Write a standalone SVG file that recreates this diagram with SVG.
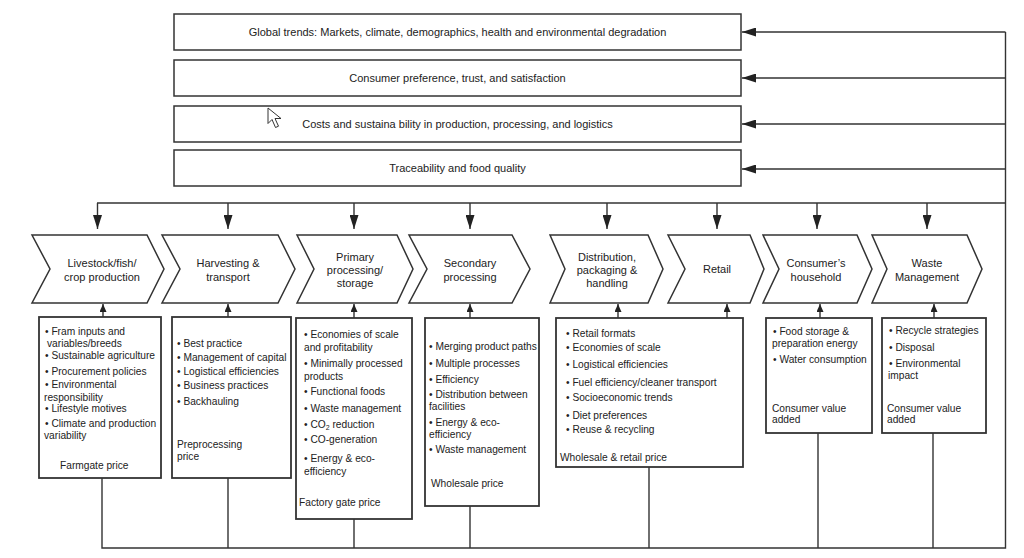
<svg xmlns="http://www.w3.org/2000/svg" width="1024" height="558" viewBox="0 0 1024 558">
<defs>
<style>
.box{fill:#fff;stroke:#333;stroke-width:1.5}
.bbox{fill:#fff;stroke:#333;stroke-width:1.8}
.ln{fill:none;stroke:#333;stroke-width:1.4}
.t{font-family:"Liberation Sans",Arial,sans-serif;font-size:11px;fill:#222;text-anchor:middle}
.b{font-family:"Liberation Sans",Arial,sans-serif;font-size:10.2px;fill:#222}
</style>
<marker id="ah" markerUnits="userSpaceOnUse" markerWidth="14" markerHeight="9" refX="14" refY="4.5" orient="auto"><path d="M0,0 L14,4.5 L0,9 z" fill="#222"/></marker>
<marker id="ahs" markerUnits="userSpaceOnUse" markerWidth="8" markerHeight="7" refX="8" refY="3.5" orient="auto"><path d="M0,0 L8,3.5 L0,7 z" fill="#222"/></marker>
</defs>
<rect width="1024" height="558" fill="#fff"/>

<g id="connectors">
<path class="ln" d="M102,478 V548 H1005.5 V32"/>
<path class="ln" d="M228,478 V548"/>
<path class="ln" d="M354,519 V548"/>
<path class="ln" d="M470,506 V548"/>
<path class="ln" d="M649,467 V548"/>
<path class="ln" d="M818,433 V548"/>
<path class="ln" d="M933,433 V548"/>
<path class="ln" d="M1005.5,32 H742" marker-end="url(#ah)"/>
<path class="ln" d="M1005.5,78 H742" marker-end="url(#ah)"/>
<path class="ln" d="M1005.5,124 H742" marker-end="url(#ah)"/>
<path class="ln" d="M1005.5,169 H742" marker-end="url(#ah)"/>
<path class="ln" d="M97,203 H1005.5"/>
<path class="ln" d="M97.5,203 V229" marker-end="url(#ah)"/>
<path class="ln" d="M228,203 V229" marker-end="url(#ah)"/>
<path class="ln" d="M354,203 V229" marker-end="url(#ah)"/>
<path class="ln" d="M470,203 V229" marker-end="url(#ah)"/>
<path class="ln" d="M607,203 V229" marker-end="url(#ah)"/>
<path class="ln" d="M717,203 V229" marker-end="url(#ah)"/>
<path class="ln" d="M817,203 V229" marker-end="url(#ah)"/>
<path class="ln" d="M927,203 V229" marker-end="url(#ah)"/>
<path class="ln" d="M103,317 V304" marker-end="url(#ahs)"/>
<path class="ln" d="M228,317 V304" marker-end="url(#ahs)"/>
<path class="ln" d="M354,318 V304" marker-end="url(#ahs)"/>
<path class="ln" d="M470,318 V304" marker-end="url(#ahs)"/>
<path class="ln" d="M618,318 V304" marker-end="url(#ahs)"/>
<path class="ln" d="M727,318 V304" marker-end="url(#ahs)"/>
<path class="ln" d="M820,318 V304" marker-end="url(#ahs)"/>
<path class="ln" d="M934,318 V304" marker-end="url(#ahs)"/>
</g>

<g id="trend-global"><rect class="box" x="174" y="14" width="567" height="36"/><text class="t" x="457.5" y="36">Global trends: Markets, climate, demographics, health and environmental degradation</text></g>
<g id="trend-consumer"><rect class="box" x="174" y="60" width="567" height="36"/><text class="t" x="457.5" y="82">Consumer preference, trust, and satisfaction</text></g>
<g id="trend-costs"><rect class="box" x="174" y="106" width="567" height="36"/><text class="t" x="457.5" y="128">Costs and sustaina bility in production, processing, and logistics</text></g>
<g id="trend-trace"><rect class="box" x="174" y="150" width="567" height="36"/><text class="t" x="457.5" y="172">Traceability and food quality</text></g>

<g id="cursor"><path d="M268,108 L268,123.5 L272,119.5 L275.5,127.5 L278.5,126.2 L275,118.5 L281,118.5 Z" fill="#fff" stroke="#333" stroke-width="1" stroke-linejoin="round"/></g>

<g id="stage-livestock"><polygon class="box" points="32,235 147,235 164,269 147,303 32,303 50,269"/><text class="t" x="102" y="267">Livestock/fish/</text><text class="t" x="102" y="281">crop production</text></g>
<g id="stage-harvest"><polygon class="box" points="162,235 278,235 295,269 278,303 162,303 180,269"/><text class="t" x="228" y="267">Harvesting &amp;</text><text class="t" x="228" y="281">transport</text></g>
<g id="stage-primary"><polygon class="box" points="297,235 397,235 413,269 397,303 297,303 314,269"/><text class="t" x="355" y="261">Primary</text><text class="t" x="355" y="274">processing/</text><text class="t" x="355" y="287">storage</text></g>
<g id="stage-secondary"><polygon class="box" points="409,235 512,235 530,269 512,303 409,303 427,269"/><text class="t" x="470" y="267">Secondary</text><text class="t" x="470" y="281">processing</text></g>
<g id="stage-distribution"><polygon class="box" points="550,235 648,235 663,269 648,303 550,303 565,269"/><text class="t" x="607" y="261">Distribution,</text><text class="t" x="607" y="274">packaging &amp;</text><text class="t" x="607" y="287">handling</text></g>
<g id="stage-retail"><polygon class="box" points="668,235 750,235 764,269 750,303 668,303 685,269"/><text class="t" x="717" y="273">Retail</text></g>
<g id="stage-household"><polygon class="box" points="763,235 857,235 872,269 857,303 763,303 779,269"/><text class="t" x="816" y="267">Consumer’s</text><text class="t" x="816" y="281">household</text></g>
<g id="stage-waste"><polygon class="box" points="872,235 967,235 982,269 967,303 872,303 887,269"/><text class="t" x="927" y="267">Waste</text><text class="t" x="927" y="281">Management</text></g>

<g id="detail-farm"><rect class="bbox" x="39" y="317" width="122" height="161"/>
<text class="b" x="45" y="334.5">• Fram inputs and</text>
<text class="b" x="47" y="346.5">variables/breeds</text>
<text class="b" x="45" y="358.5">• Sustainable agriculture</text>
<text class="b" x="45" y="374.5">• Procurement policies</text>
<text class="b" x="45" y="387.5">• Environmental</text>
<text class="b" x="44" y="400.5">responsibility</text>
<text class="b" x="45" y="411.5">• Lifestyle motives</text>
<text class="b" x="45" y="426.5">• Climate and production</text>
<text class="b" x="44" y="438.5">variability</text>
<text class="b" x="60" y="468.5">Farmgate price</text>
</g>
<g id="detail-harvest"><rect class="bbox" x="172" y="317" width="119" height="161"/>
<text class="b" x="177" y="346.5">• Best practice</text>
<text class="b" x="177" y="360.5">• Management of capital</text>
<text class="b" x="177" y="374.5">• Logistical efficiencies</text>
<text class="b" x="177" y="388.5">• Business practices</text>
<text class="b" x="177" y="404.5">• Backhauling</text>
<text class="b" x="177" y="447.5">Preprocessing</text>
<text class="b" x="177" y="459.5">price</text>
</g>
<g id="detail-primary"><rect class="bbox" x="296" y="318" width="116" height="201"/>
<text class="b" x="304" y="337.5">• Economies of scale</text>
<text class="b" x="304" y="350.5">and profitability</text>
<text class="b" x="304" y="366.5">• Minimally processed</text>
<text class="b" x="304" y="379.5">products</text>
<text class="b" x="304" y="394.5">• Functional foods</text>
<text class="b" x="304" y="411.5">• Waste management</text>
<text class="b" x="304" y="427.5">• CO<tspan font-size="7" dy="2.5">2</tspan><tspan dy="-2.5"> reduction</tspan></text>
<text class="b" x="304" y="442.5">• CO-generation</text>
<text class="b" x="304" y="461.5">• Energy &amp; eco-</text>
<text class="b" x="304" y="474.5">efficiency</text>
<text class="b" x="299" y="505.5">Factory gate price</text>
</g>
<g id="detail-secondary"><rect class="bbox" x="425" y="318" width="114" height="188"/>
<text class="b" x="429" y="349.5">• Merging product paths</text>
<text class="b" x="429" y="366.5">• Multiple processes</text>
<text class="b" x="429" y="382.5">• Efficiency</text>
<text class="b" x="429" y="397.5">• Distribution between</text>
<text class="b" x="429" y="409.5">facilities</text>
<text class="b" x="429" y="425.5">• Energy &amp; eco-</text>
<text class="b" x="429" y="437.5">efficiency</text>
<text class="b" x="429" y="452.5">• Waste management</text>
<text class="b" x="431" y="486.5">Wholesale price</text>
</g>
<g id="detail-distribution"><rect class="bbox" x="556" y="318" width="187" height="149" stroke-width="2.2"/>
<text class="b" x="566" y="336.5">• Retail formats</text>
<text class="b" x="566" y="350.5">• Economies of scale</text>
<text class="b" x="566" y="367.5">• Logistical efficiencies</text>
<text class="b" x="566" y="385.5">• Fuel efficiency/cleaner transport</text>
<text class="b" x="566" y="400.5">• Socioeconomic trends</text>
<text class="b" x="566" y="418.5">• Diet preferences</text>
<text class="b" x="566" y="432.5">• Reuse &amp; recycling</text>
<text class="b" x="560" y="460.5">Wholesale &amp; retail price</text>
</g>
<g id="detail-household"><rect class="bbox" x="766" y="318" width="106" height="115"/>
<text class="b" x="773" y="334.5">• Food storage &amp;</text>
<text class="b" x="772" y="346.5">preparation energy</text>
<text class="b" x="773" y="362.5">• Water consumption</text>
<text class="b" x="772" y="411.5">Consumer value</text>
<text class="b" x="772" y="422.5">added</text>
</g>
<g id="detail-waste"><rect class="bbox" x="882" y="318" width="104" height="115"/>
<text class="b" x="889" y="333.5">• Recycle strategies</text>
<text class="b" x="889" y="350.5">• Disposal</text>
<text class="b" x="889" y="366.5">• Environmental</text>
<text class="b" x="888" y="378.5">impact</text>
<text class="b" x="887" y="411.5">Consumer value</text>
<text class="b" x="887" y="422.5">added</text>
</g>
</svg>
